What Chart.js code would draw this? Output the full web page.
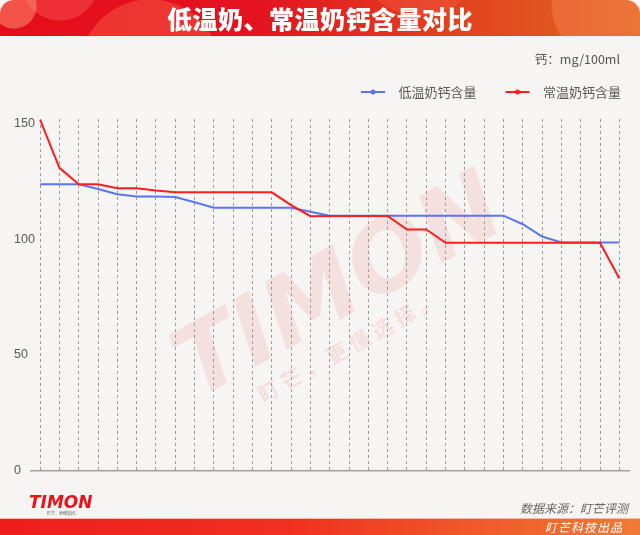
<!DOCTYPE html>
<html>
<head>
<meta charset="utf-8">
<script src="https://cdn.jsdelivr.net/npm/chart.js@4"></script>
<style>
  html, body { margin: 0; padding: 0; background: #ffffff; }
  #page { position: relative; width: 640px; height: 535px; background: #f6f5f3; overflow: hidden; font-family: "Noto Sans CJK SC", sans-serif; }
  #header { position: absolute; left: 0; top: 0; width: 640px; height: 36px; border-radius: 14px 14px 0 0; overflow: hidden; z-index: 3;
    background:
      radial-gradient(circle at 14px 6px, rgba(255,140,110,0.55) 0 22px, transparent 23px),
      radial-gradient(circle at 60px -18px, rgba(255,110,110,0.35) 0 38px, transparent 39px),
      radial-gradient(circle at 150px 70px, rgba(255,120,90,0.35) 0 70px, transparent 71px),
      radial-gradient(circle at 420px -50px, rgba(255,110,90,0.25) 0 65px, transparent 66px),
      radial-gradient(circle at 600px 6px, rgba(255,140,100,0.35) 0 48px, transparent 49px),
      linear-gradient(90deg, #e50e1b 0%, #e3131f 40%, #e2401f 70%, #e0681f 100%);
  }
  #title { position: absolute; left: 0; top: 0; width: 640px; height: 36px; line-height: 36px; text-align: center; color: #fff; font-size: 25px; font-weight: 900; letter-spacing: 0.5px; z-index: 4; }
  #wm { position: absolute; left: 137px; top: 228px; width: 400px; text-align: center; transform: rotate(-29deg); color: rgba(232,60,60,0.11); font: italic 900 96px "DejaVu Sans", sans-serif; letter-spacing: 0px; z-index: 1; }
  #wm2 { position: absolute; left: 240px; top: 330px; width: 220px; text-align: center; transform: rotate(-29deg); color: rgba(232,60,60,0.12); font-size: 21px; font-weight: 700; letter-spacing: 5px; z-index: 1; }
  #unit { position: absolute; right: 20px; top: 49px; font-size: 12.5px; color: #555; z-index: 4; }
  canvas#c { position: absolute; left: 0; top: 0; z-index: 2; }
  #logo { position: absolute; left: 29px; top: 494px; z-index: 4; color: #e8141c; font: italic 900 17px "DejaVu Sans", sans-serif; letter-spacing: 0px; line-height: 17px; }
  #logo small { display: block; font: 4px "Noto Sans CJK SC", sans-serif; color: #666; margin-left: 18px; line-height: 5px; font-style: normal; }
  #src { position: absolute; right: 12px; top: 499px; font-size: 12px; font-style: italic; color: #666; z-index: 4; }
  #footer { position: absolute; left: 0; top: 518px; width: 640px; height: 17px; z-index: 3;
    background: linear-gradient(90deg, #ef1d1d 0%, #f0301f 45%, #f05a2a 75%, #ef7a35 100%); border-top: 1px solid #f6b8a8; }
  #made { position: absolute; right: 17px; top: 518px; height: 17px; line-height: 17px; font-size: 12px; font-style: italic; color: #fff; z-index: 4; letter-spacing: 1px; }
</style>
</head>
<body>
<div id="page">
  <div id="header"></div>
  <div id="title">低温奶、常温奶钙含量对比</div>
  <div id="wm">TIMON</div>
  <div id="wm2">盯芒，更懂选择。</div>
  <div id="unit">钙：mg/100ml</div>
  <canvas id="c" width="640" height="535"></canvas>
  <div id="logo">TIMON<small>盯芒，更懂选择。</small></div>
  <div id="src">数据来源：盯芒评测</div>
  <div id="footer"></div>
  <div id="made">盯芒科技出品</div>
</div>
<script>
const categories = ['1','2','3','4','5','6','7','8','9','10','11','12','13','14','15','16','17','18','19','20','21','22','23','24','25','26','27','28','29','30','31'];
const seriesNames = ['低温奶钙含量', '常温奶钙含量'];
const lowTempCalcium = [123.8, 123.8, 123.8, 121.7, 119.5, 118.5, 118.5, 118.3, 116.0, 113.6, 113.6, 113.6, 113.6, 113.6, 111.9, 110.2, 110.2, 110.2, 110.2, 110.2, 110.2, 110.2, 110.2, 110.2, 110.2, 106.5, 101.2, 98.6, 98.6, 98.6, 98.6];
const normalTempCalcium = [151.6, 130.9, 123.8, 123.8, 122.1, 122.1, 121.1, 120.3, 120.3, 120.3, 120.3, 120.3, 120.3, 114.8, 110.0, 110.1, 110.1, 110.1, 110.1, 104.2, 104.2, 98.5, 98.5, 98.5, 98.5, 98.5, 98.5, 98.5, 98.5, 98.5, 83.0];
const yTicks = [0, 50, 100, 150];
const yMax = 152;

const blue = '#5b74f4';
const red = '#ff1c1c';

function legendIcon(color) {
  const cv = document.createElement('canvas');
  cv.width = 52; cv.height = 8;
  const g = cv.getContext('2d');
  g.strokeStyle = color; g.lineWidth = 2;
  g.beginPath(); g.moveTo(21, 4); g.lineTo(45, 4); g.stroke();
  g.fillStyle = color;
  g.beginPath(); g.arc(33, 4, 2.5, 0, Math.PI * 2); g.fill();
  return cv;
}
const icons = [legendIcon(blue), legendIcon(red)];

const legendSpacer = {
  id: 'legendSpacer',
  afterInit(chart) {
    const lg = chart.legend;
    if (!lg) return;
    const f = lg.fit;
    lg.fit = function () { f.call(this); this.height += 10.5; };
  }
};

new Chart(document.getElementById('c'), {
  type: 'line',
  data: {
    labels: categories,
    datasets: [
      { label: seriesNames[0], data: lowTempCalcium, borderColor: blue, backgroundColor: blue, borderWidth: 2, pointRadius: 0, tension: 0, order: 1 },
      { label: seriesNames[1], data: normalTempCalcium, borderColor: red, backgroundColor: red, borderWidth: 2, pointRadius: 0, tension: 0, order: 0 }
    ]
  },
  options: {
    responsive: false,
    animation: false,
    layout: { padding: { top: 77.5, left: 14, right: 11, bottom: 64.5 } },
    plugins: {
      tooltip: { enabled: false },
      legend: {
        position: 'top',
        align: 'end',
        labels: {
          usePointStyle: true,
          pointStyleWidth: 52,
          padding: 8,
          color: '#595959',
          font: { family: '"Noto Sans CJK SC", sans-serif', size: 13 },
          sort: (a, b) => a.datasetIndex - b.datasetIndex,
          generateLabels(chart) {
            const items = Chart.defaults.plugins.legend.labels.generateLabels(chart);
            items.forEach(it => { it.pointStyle = icons[it.datasetIndex]; });
            return items;
          }
        }
      }
    },
    scales: {
      x: {
        type: 'category',
        offset: true,
        ticks: { display: false },
        grid: { display: true, offset: false, drawTicks: false, color: '#9c9c9c', lineWidth: 1 },
        border: { display: true, color: '#a3a3a3', width: 1.5, dash: [3, 3] }
      },
      y: {
        min: 0,
        max: yMax,
        afterBuildTicks(scale) { scale.ticks = yTicks.map(v => ({ value: v })); },
        afterFit(scale) { scale.width = 16.5; },
        ticks: { mirror: true, crossAlign: 'near', padding: -16.5, color: '#595959', font: { family: '"Liberation Sans", Arial, sans-serif', size: 12.5 } },
        grid: { display: false, drawTicks: false },
        border: { display: false }
      }
    }
  },
  plugins: [legendSpacer]
});
</script>
</body>
</html>
